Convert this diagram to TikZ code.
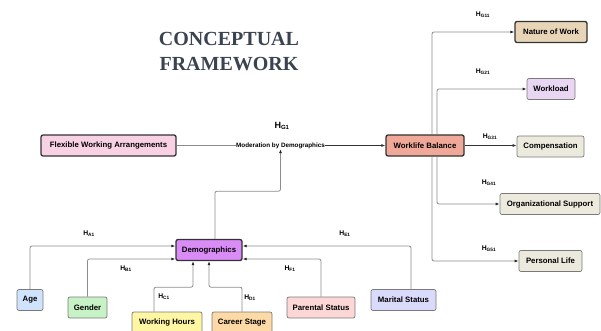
\documentclass[tikz,border=0pt]{standalone}
\usepackage{fontspec}
\setmainfont{Liberation Sans}
\newfontfamily\titlefont{Liberation Serif}
\usetikzlibrary{arrows.meta, positioning, calc}
\definecolor{boxdark}{HTML}{333333}
\definecolor{boxgray}{HTML}{7A7A7A}
\definecolor{linkgray}{HTML}{8C8C8C}
\definecolor{titlegray}{HTML}{3B4250}
\definecolor{fwafill}{HTML}{F8D2E4}
\definecolor{wlbfill}{HTML}{F0A898}
\definecolor{worknat}{HTML}{E8D5B7}
\definecolor{loadfill}{HTML}{E9D6F2}
\definecolor{outfill}{HTML}{EBEADD}
\definecolor{demofill}{HTML}{DA8CF6}
\definecolor{agefill}{HTML}{CFE3FC}
\definecolor{genderfill}{HTML}{C6F2C6}
\definecolor{hoursfill}{HTML}{FFF6A3}
\definecolor{careerfill}{HTML}{FDD9A6}
\definecolor{parentfill}{HTML}{FDD6D6}
\definecolor{maritalfill}{HTML}{DADAFB}
\newcommand{\hlabel}[1]{H\textsubscript{#1}}
\tikzset{
    framework/.style={x=1pt, y=-1pt, font=\fontsize{7.8}{9}\selectfont\bfseries},
    mainbox/.style={draw=boxdark, line width=1.3pt, rounded corners=2pt, minimum height=21pt, inner xsep=4pt, align=center},
    factor/.style={draw=boxgray, line width=0.7pt, rounded corners=2pt, minimum height=21pt, inner xsep=4pt, align=center},
    link/.style={draw=linkgray, line width=0.8pt, rounded corners=2pt, -{Latex[length=4pt, width=3pt, color=black!85]}},
    darklink/.style={draw=black!80, line width=0.9pt, -{Latex[length=4pt, width=3pt]}},
    hyp/.style={font=\fontsize{6.8}{8}\selectfont\bfseries, inner sep=0pt},
}
\begin{document}
\begin{tikzpicture}[framework]
    \useasboundingbox (0,0) rectangle (601,331);

    % title
    \node[font=\titlefont\fontsize{20}{25}\selectfont\bfseries, text=titlegray, align=center] (title) at (229,52) {CONCEPTUAL\\FRAMEWORK};

    % main chain
    \node[mainbox, fill=fwafill, minimum width=135pt]  (fwa)  at (108.5,145.5) {Flexible Working Arrangements};
    \node[mainbox, fill=wlbfill, minimum width=78pt]   (wlb)  at (425,145.5)   {Worklife Balance};
    \node[font=\fontsize{6.3}{7}\selectfont\bfseries, inner sep=0.5pt] (mod) at (280.5,145.5) {Moderation by Demographics};
    \node[mainbox, fill=demofill, minimum width=66pt]  (demo) at (209,250)     {Demographics};

    % outcomes
    \node[mainbox, fill=worknat, minimum width=72pt]   (nature) at (551,32)    {Nature of Work};
    \node[factor, fill=loadfill, minimum width=48pt]   (load)   at (551,89)    {Workload};
    \node[factor, fill=outfill, minimum width=67pt]    (comp)   at (550.5,146.5) {Compensation};
    \node[factor, fill=outfill, minimum width=100pt]   (orgsup) at (550,204)   {Organizational Support};
    \node[factor, fill=outfill, minimum width=63pt]    (plife)  at (550.5,261) {Personal Life};

    % demographic factors
    \node[factor, fill=agefill, minimum width=26pt]     (age)     at (30,300)    {Age};
    \node[factor, fill=genderfill, minimum width=39pt]  (gender)  at (87.5,307.5) {Gender};
    \node[factor, fill=hoursfill, minimum width=70pt]   (hours)   at (167,322.5) {Working Hours};
    \node[factor, fill=careerfill, minimum width=60pt]  (career)  at (242,322.5) {Career Stage};
    \node[factor, fill=parentfill, minimum width=68pt]  (parent)  at (321,307.5) {Parental Status};
    \node[factor, fill=maritalfill, minimum width=65pt] (marital) at (403.5,300) {Marital Status};

    % moderation path
    \draw[draw=linkgray, line width=0.8pt] (fwa.east) -- (mod.west);
    \draw[darklink] (mod.east) -- (wlb.west);
    \draw[link] ([xshift=6pt]demo.north) |- ($(mod.south)+(0,42)$) -- (mod.south);
    \node[hyp, font=\fontsize{9}{10}\selectfont\bfseries] (hg1) at (282,126) {\hlabel{G1}};

    % worklife balance to outcomes
    \draw[link] ([xshift=7pt]wlb.north) |- (nature.west);
    \draw[link] ([xshift=12pt]wlb.north) |- (load.west);
    \draw[darklink] (wlb.east) -- (comp.west |- wlb.east);
    \draw[link] ([xshift=12pt]wlb.south) |- (orgsup.west);
    \draw[link] ([xshift=7pt]wlb.south) |- (plife.west);
    \node[hyp] at (483,15)  {\hlabel{G11}};
    \node[hyp] at (483,72)  {\hlabel{G21}};
    \node[hyp] at (490,137) {\hlabel{G31}};
    \node[hyp] at (489,183) {\hlabel{G41}};
    \node[hyp] at (489,249) {\hlabel{G51}};

    % factors to demographics
    \draw[link] (age.north) |- ($(demo.west)+(0,-4)$);
    \draw[link] (gender.north) |- ($(demo.west)+(0,9)$);
    \draw[link] ([xshift=-13pt]hours.north) -- ++(0,-24.5) -| ($(demo.south)+(-16,0)$);
    \draw[link] (career.north) -- ++(0,-24.5) -| (demo.south);
    \draw[link] (parent.north) |- ($(demo.east)+(0,9)$);
    \draw[link] ([xshift=7.5pt]marital.north) |- ($(demo.east)+(0,-4)$);
    \node[hyp] at (89,234)  {\hlabel{A1}};
    \node[hyp] at (126,269) {\hlabel{B1}};
    \node[hyp] at (164,297) {\hlabel{C1}};
    \node[hyp] at (250,298) {\hlabel{D1}};
    \node[hyp] at (345,234) {\hlabel{E1}};
    \node[hyp] at (290,269) {\hlabel{F1}};
\end{tikzpicture}
\end{document}
